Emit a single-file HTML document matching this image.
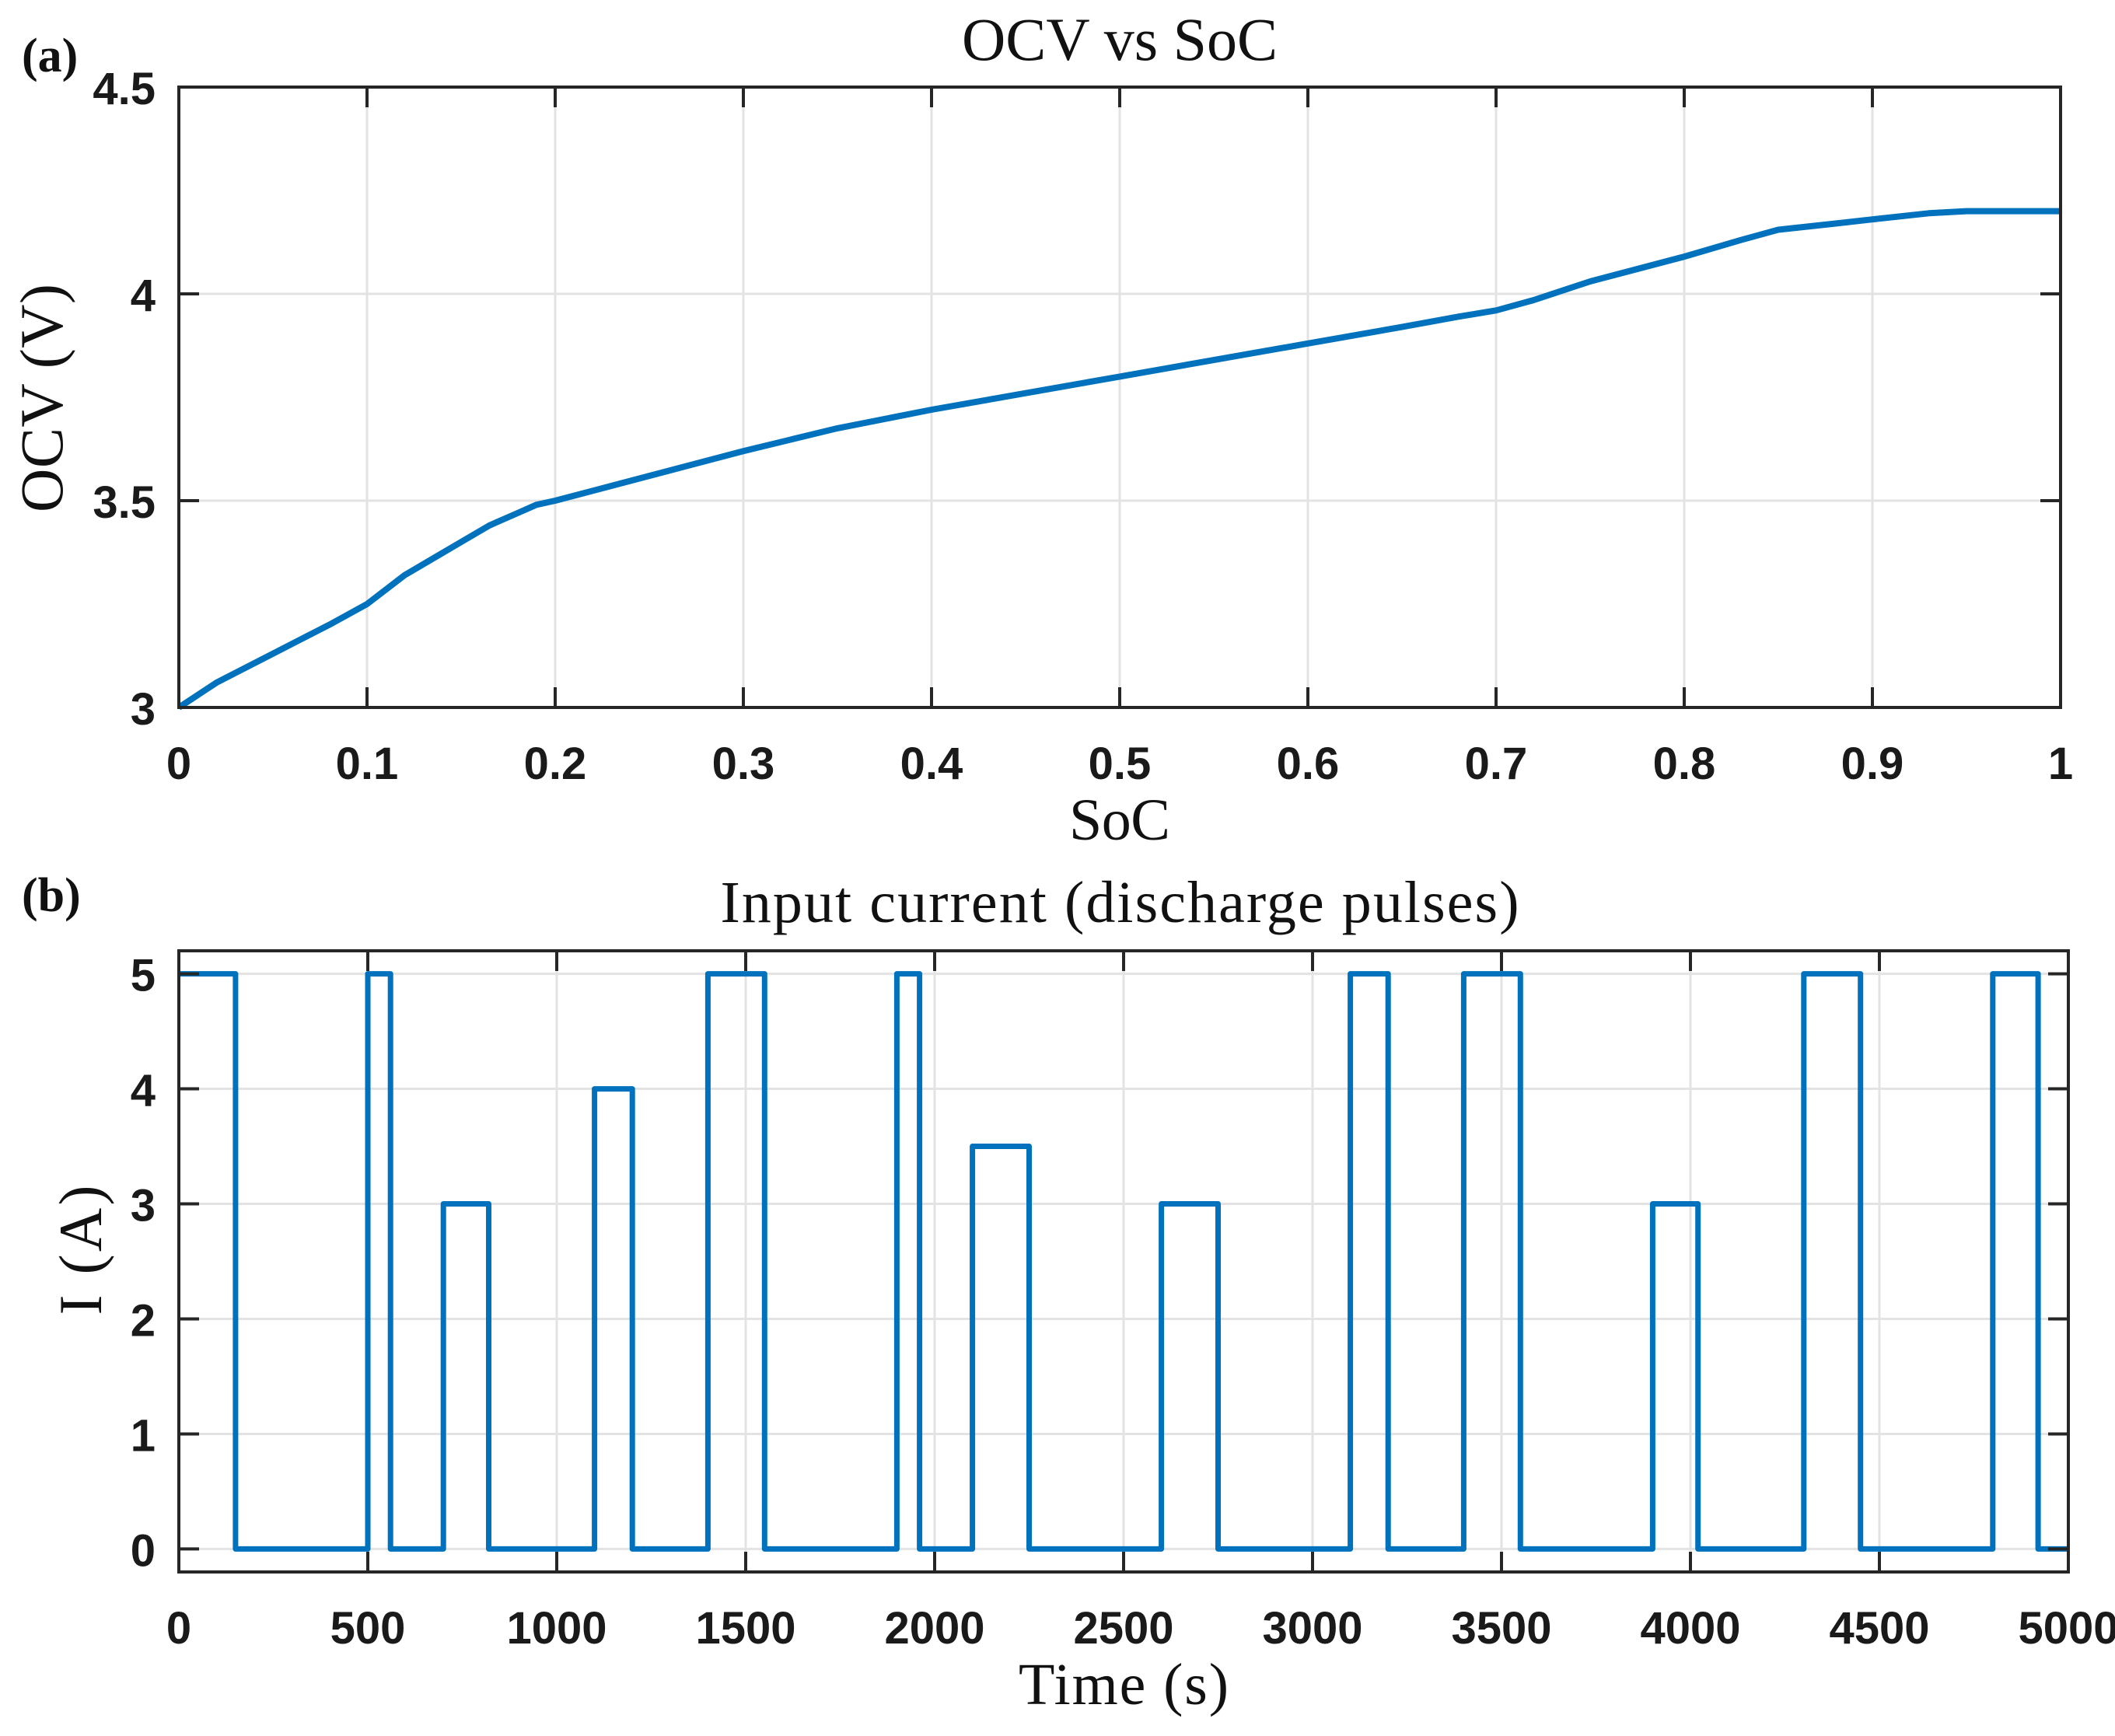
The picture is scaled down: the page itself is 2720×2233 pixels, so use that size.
<!DOCTYPE html>
<html><head><meta charset="utf-8"><style>
html,body{margin:0;padding:0;background:#fff}
svg{display:block}
.tk{font-family:"Liberation Sans",sans-serif;font-weight:bold;font-size:58px;fill:#1a1a1a}
.sf{font-family:"Liberation Serif",serif;fill:#111}
</style></head><body>
<svg id="fig" width="2720" height="2233" viewBox="0 0 2720 2233" xmlns="http://www.w3.org/2000/svg">
<text class="sf" x="28" y="92" font-size="62" font-weight="bold">(a)</text>
<text class="sf" x="1440" y="77" font-size="78" text-anchor="middle">OCV vs SoC</text>
<text class="sf" x="1440" y="1080" font-size="76" text-anchor="middle" textLength="130">SoC</text>
<text class="sf" x="0" y="0" font-size="78" text-anchor="middle" textLength="294" transform="translate(80,512) rotate(-90)">OCV (V)</text>
<text class="sf" x="28" y="1172" font-size="62" font-weight="bold">(b)</text>
<text class="sf" x="1440" y="1186" font-size="76" text-anchor="middle" textLength="1027">Input current (discharge pulses)</text>
<text class="sf" x="1445" y="2192" font-size="76" text-anchor="middle" textLength="270">Time (s)</text>
<text class="sf" x="0" y="0" font-size="78" text-anchor="middle" textLength="167" transform="translate(130,1608) rotate(-90)">I (A)</text>
<g id="ga"></g>
<g id="gb"></g>
</svg>
<script>
const NS="http://www.w3.org/2000/svg";
// Chart A data
const socValues=[0,0.02,0.05,0.08,0.1,0.11,0.12,0.135,0.15,0.165,0.18,0.19,0.2,0.25,0.3,0.35,0.4,0.45,0.5,0.55,0.6,0.65,0.68,0.7,0.72,0.75,0.8,0.83,0.85,0.88,0.9,0.93,0.95,1.0];
const ocvValues=[3.0,3.06,3.13,3.2,3.25,3.285,3.32,3.36,3.40,3.44,3.47,3.49,3.50,3.56,3.62,3.675,3.72,3.76,3.80,3.84,3.88,3.92,3.945,3.96,3.985,4.03,4.09,4.13,4.155,4.17,4.18,4.195,4.2,4.2];
const xTicksA=[0,0.1,0.2,0.3,0.4,0.5,0.6,0.7,0.8,0.9,1];
const xTickLabelsA=["0","0.1","0.2","0.3","0.4","0.5","0.6","0.7","0.8","0.9","1"];
const yTicksA=[3,3.5,4,4.5];
const yTickLabelsA=["3","3.5","4","4.5"];
// Chart B data (step series)
const timeValues=[0,150,150,500,500,560,560,700,700,820,820,1100,1100,1200,1200,1400,1400,1550,1550,1900,1900,1960,1960,2100,2100,2250,2250,2600,2600,2750,2750,3100,3100,3200,3200,3400,3400,3550,3550,3900,3900,4020,4020,4300,4300,4450,4450,4800,4800,4920,4920,5000];
const currentValues=[5,5,0,0,5,5,0,0,3,3,0,0,4,4,0,0,5,5,0,0,5,5,0,0,3.5,3.5,0,0,3,3,0,0,5,5,0,0,5,5,0,0,3,3,0,0,5,5,0,0,5,5,0,0];
const xTicksB=[0,500,1000,1500,2000,2500,3000,3500,4000,4500,5000];
const xTickLabelsB=["0","500","1000","1500","2000","2500","3000","3500","4000","4500","5000"];
const yTicksB=[0,1,2,3,4,5];
const yTickLabelsB=["0","1","2","3","4","5"];

function mk(tag,attrs,parent){const e=document.createElementNS(NS,tag);for(const k in attrs)e.setAttribute(k,attrs[k]);parent.appendChild(e);return e;}

function chart(g,o){
  const sx=v=>o.L+(v-o.x0)/(o.x1-o.x0)*(o.R-o.L);
  const sy=v=>o.B-(v-o.y0)/(o.y1-o.y0)*(o.B-o.T);
  o.xt.forEach((v,i)=>{
    const l=mk('line',{x1:sx(v),x2:sx(v),y1:o.T,y2:o.B,stroke:'#e3e3e3','stroke-width':3},g);
    
    
  });
  o.yt.forEach((v,i)=>{
    const l=mk('line',{x1:o.L,x2:o.R,y1:sy(v),y2:sy(v),stroke:'#e3e3e3','stroke-width':3},g);
    
    
  });
  let d='';
  o.xs.forEach((v,i)=>{d+=(i?'L':'M')+sx(v).toFixed(1)+' '+sy(o.ys[i]).toFixed(1);});
  const p=mk('path',{d:d,fill:'none',stroke:'#0072BD','stroke-width':o.lw,'stroke-linejoin':'round','stroke-linecap':'butt'},g);
  
  
  const box=mk('rect',{x:o.L,y:o.T,width:o.R-o.L,height:o.B-o.T,fill:'none',stroke:'#262626','stroke-width':4},g);
  
  
  o.xt.forEach((v,i)=>{
    mk('line',{x1:sx(v),x2:sx(v),y1:o.B,y2:o.B-26,stroke:'#262626','stroke-width':4},g);
    mk('line',{x1:sx(v),x2:sx(v),y1:o.T,y2:o.T+26,stroke:'#262626','stroke-width':4},g);
    const t=mk('text',{x:sx(v),y:o.B+o.xly,'text-anchor':'middle',class:'tk'},g);
    t.textContent=o.xl[i];
    
    
  });
  o.yt.forEach((v,i)=>{
    mk('line',{x1:o.L,x2:o.L+26,y1:sy(v),y2:sy(v),stroke:'#262626','stroke-width':4},g);
    mk('line',{x1:o.R,x2:o.R-26,y1:sy(v),y2:sy(v),stroke:'#262626','stroke-width':4},g);
    const t=mk('text',{x:o.L-30,y:sy(v)+22,'text-anchor':'end',class:'tk'},g);
    t.textContent=o.yl[i];
    
    
  });
}
chart(document.getElementById('ga'),{L:230,R:2650,T:112,B:910,x0:0,x1:1,y0:3,y1:4.5,xs:socValues,ys:ocvValues,xt:xTicksA,xl:xTickLabelsA,yt:yTicksA,yl:yTickLabelsA,xly:92,lw:8});
chart(document.getElementById('gb'),{L:230,R:2660,T:1223,B:2022,x0:0,x1:5000,y0:-0.2,y1:5.2,xs:timeValues,ys:currentValues,xt:xTicksB,xl:xTickLabelsB,yt:yTicksB,yl:yTickLabelsB,xly:92,lw:7});
</script>
</body></html>
